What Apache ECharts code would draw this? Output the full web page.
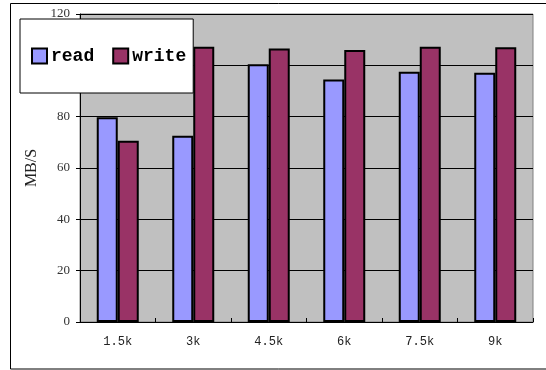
<!DOCTYPE html>
<html>
<head>
<meta charset="utf-8">
<script src="https://cdn.jsdelivr.net/npm/echarts@6/dist/echarts.min.js"></script>
<style>
html,body{margin:0;padding:0;background:#fff;}
#c{width:546px;height:370px;}
</style>
</head>
<body>
<div id="c"></div>
<script>
var categories = ['1.5k', '3k', '4.5k', '6k', '7.5k', '9k'];
var readValues = [79.8, 72.6, 100.4, 94.5, 97.5, 97.1];
var writeValues = [70.6, 107.2, 106.6, 106.0, 107.2, 107.0];
var yTicks = [0, 20, 40, 60, 80, 100, 120];

var chart = echarts.init(document.getElementById('c'), null, {renderer: 'canvas'});
chart.setOption({
  animation: false,
  backgroundColor: '#ffffff',
  graphic: [{
    type: 'rect', z: -10, silent: true,
    shape: {x: 10.5, y: 3.5, width: 540, height: 365.5},
    style: {fill: 'none', stroke: '#000', lineWidth: 1}
  }],
  grid: {
    left: 80, right: 13, top: 14, bottom: 48,
    show: true, backgroundColor: '#c0c0c0', borderColor: '#808080', borderWidth: 1
  },
  legend: {
    left: 20, top: 19,
    orient: 'horizontal',
    backgroundColor: '#ffffff',
    borderColor: '#000', borderWidth: 1,
    padding: [28, 7, 28, 11],
    itemWidth: 15, itemHeight: 15, itemGap: 18,
    icon: 'rect',
    textStyle: {fontFamily: 'Liberation Mono', fontSize: 18, fontWeight: 'bold', color: '#000', padding: [0, 0, 0, -1]},
    data: ['read', 'write']
  },
  xAxis: {
    type: 'category',
    data: categories,
    axisLine: {lineStyle: {color: '#000', width: 1}},
    axisTick: {show: true, inside: true, length: 4, alignWithLabel: false, lineStyle: {color: '#000'}},
    axisLabel: {fontFamily: 'Liberation Mono', fontSize: 12, color: '#222', margin: 14},
    splitLine: {show: false}
  },
  yAxis: {
    type: 'value',
    min: yTicks[0], max: yTicks[yTicks.length - 1], interval: yTicks[1] - yTicks[0],
    name: 'MB/S',
    nameLocation: 'middle',
    nameRotate: 90,
    nameGap: 40,
    nameTextStyle: {fontFamily: 'Liberation Serif', fontSize: 16, color: '#222'},
    axisLine: {show: true, lineStyle: {color: '#000', width: 1}},
    axisTick: {show: true, inside: false, length: 4, lineStyle: {color: '#000'}},
    axisLabel: {fontFamily: 'Liberation Serif', fontSize: 13, color: '#333', margin: 10},
    splitLine: {show: true, lineStyle: {color: '#000', width: 1}}
  },
  series: [{
    name: 'read', type: 'bar', data: readValues,
    barWidth: 21, barGap: '0%',
    itemStyle: {color: '#9999ff', borderColor: '#000', borderWidth: 2}
  }, {
    name: 'write', type: 'bar', data: writeValues,
    barWidth: 21,
    itemStyle: {color: '#993366', borderColor: '#000', borderWidth: 2}
  }]
});
</script>
</body>
</html>
